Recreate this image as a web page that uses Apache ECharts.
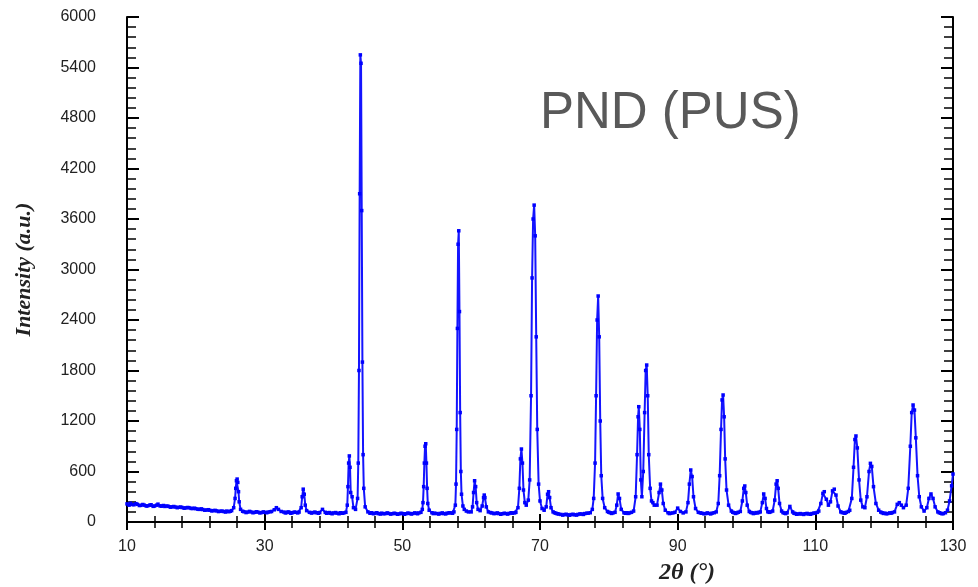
<!DOCTYPE html>
<html>
<head>
<meta charset="utf-8">
<title>PND (PUS)</title>
<script src="https://cdn.jsdelivr.net/npm/echarts@6/dist/echarts.min.js"></script>
<style>
  html, body { margin: 0; padding: 0; background: #fff; }
  #main { width: 978px; height: 587px; }
</style>
</head>
<body>
<div id="main"></div>
<script>
// 衍射图谱数据 [2θ, 强度]
var profile = [
  [10.0,215],[10.3,200],[10.5,222],[10.8,208],[11.0,205],[11.3,218],[11.5,210],[11.8,196],[12.0,198],[12.3,208],[12.5,200],[12.8,190],[13.0,192],[13.3,200],[13.5,205],
  [13.8,186],[14.0,190],[14.3,200],[14.5,212],[14.8,192],[15.0,188],[15.3,196],[15.5,185],[15.8,190],[16.0,186],[16.3,176],[16.5,180],[16.8,184],[17.0,178],[17.3,170],[17.5,175],
  [17.8,178],[18.0,172],[18.3,164],[18.5,168],[18.8,172],[19.0,170],[19.3,162],[19.5,160],[19.8,164],[20.0,158],[20.3,152],[20.5,150],[20.8,156],[21.0,148],[21.3,140],[21.5,142],
  [21.8,146],[22.0,140],[22.3,132],[22.5,135],[22.8,138],[23.0,132],[23.3,124],[23.5,128],[23.8,130],[24.0,125],[24.3,118],[24.5,130],[24.8,122],[25.0,128],
  [25.2,135],[25.5,170],[25.7,280],[25.8,400],[25.9,490],[26.0,510],[26.1,470],[26.2,360],
  [26.3,240],[26.5,150],[26.8,128],
  [27.0,122],[27.3,112],[27.5,118],[27.8,126],[28.0,120],[28.3,110],[28.5,115],[28.8,122],[29.0,118],[29.3,108],[29.5,112],[29.8,120],[30.0,115],[30.3,110],[30.5,118],[30.8,122],
  [31.0,125],[31.4,145],[31.7,170],[32.0,150],[32.4,125],
  [32.8,118],[33.0,108],[33.2,112],[33.4,120],[33.6,115],[33.8,104],[34.0,110],[34.3,118],[34.5,115],[34.8,108],
  [35.0,118],[35.3,170],[35.45,300],[35.6,390],[35.75,330],[35.9,200],[36.1,135],[36.5,115],
  [36.8,106],[37.0,112],[37.3,118],[37.5,110],[37.8,104],[38.0,112],[38.4,150],[38.8,115],
  [39.0,104],[39.2,108],[39.4,112],[39.6,105],[39.8,98],[40.0,108],[40.3,112],[40.5,105],[40.8,98],[41.0,110],[41.3,104],[41.5,108],
  [41.8,115],[42.0,200],[42.1,420],[42.2,700],[42.3,785],[42.4,650],[42.5,350],[42.7,300],
  [42.9,170],[43.2,150],[43.5,280],[43.6,700],[43.7,1800],[43.8,3900],[43.9,5550],[44.0,5450],
  [44.1,3700],[44.2,1900],[44.3,800],[44.4,400],[44.6,180],[45.0,120],
  [45.3,104],[45.5,110],[45.8,98],[46.0,105],[46.3,110],[46.5,100],[46.8,94],[47.0,105],[47.3,98],[47.5,100],[47.8,108],[48.0,102],[48.3,94],[48.5,98],[48.8,104],[49.0,100],
  [49.3,92],[49.5,96],[49.8,104],[50.0,100],[50.3,92],[50.5,98],[50.8,106],[51.0,102],[51.3,95],[51.5,100],[51.8,108],[52.0,105],[52.2,98],[52.4,108],
  [52.7,115],[52.9,150],[53.0,230],[53.1,420],[53.2,700],[53.3,900],[53.4,930],[53.5,700],
  [53.6,400],[53.7,220],[53.9,140],[54.3,110],
  [54.5,100],[54.7,105],[55.0,100],[55.3,94],[55.5,102],[55.8,108],[56.0,100],[56.3,96],[56.5,105],[56.8,110],[57.0,108],[57.3,104],
  [57.5,120],[57.7,200],[57.8,450],[57.9,1100],[58.0,2300],[58.1,3300],[58.2,3460],[58.3,2500],
  [58.4,1300],[58.5,600],[58.6,330],[58.8,190],[59.0,150],[59.3,130],[59.6,120],
  [60.0,120],[60.2,180],[60.35,350],[60.5,490],[60.65,420],[60.8,230],[61.0,150],
  [61.3,135],[61.6,190],[61.8,290],[61.9,320],[62.0,290],[62.2,180],[62.5,120],
  [62.8,112],[63.0,108],[63.3,100],[63.5,102],[63.8,108],[64.0,100],[64.3,92],[64.5,98],[64.8,104],[65.0,100],[65.3,94],[65.5,102],[65.8,110],[66.0,105],[66.3,108],
  [66.5,115],[66.8,170],[67.0,400],[67.15,750],[67.3,867],[67.45,700],[67.6,380],[67.8,230],
  [68.0,200],[68.3,260],[68.5,500],[68.7,1500],[68.85,2900],[69.0,3600],[69.15,3765],[69.3,3400],
  [69.45,2200],[69.6,1100],[69.8,450],[70.0,250],[70.3,160],[70.6,140],
  [70.9,180],[71.1,330],[71.25,360],[71.4,290],[71.6,170],[71.9,120],
  [72.1,110],[72.3,105],[72.5,98],[72.7,95],[73.0,90],[73.3,82],[73.5,88],[73.8,92],[74.0,85],[74.3,80],[74.5,88],[74.8,92],[75.0,85],[75.3,82],[75.5,90],
  [75.8,96],[76.0,95],[76.3,90],[76.5,100],[76.8,104],[77.0,105],
  [77.3,110],[77.6,150],[77.8,280],[78.0,700],[78.15,1500],[78.3,2400],[78.45,2685],[78.6,2200],
  [78.75,1200],[78.9,550],[79.1,280],[79.4,170],[79.8,125],
  [80.0,116],[80.2,110],[80.4,102],[80.6,108],
  [80.9,115],[81.15,200],[81.35,333],[81.55,280],[81.8,150],[82.2,110],
  [82.4,104],[82.6,110],[82.8,102],[83.0,108],[83.3,115],
  [83.6,130],[83.9,300],[84.1,800],[84.25,1250],[84.35,1370],[84.5,1100],[84.65,500],[84.8,300],
  [85.0,600],[85.2,1300],[85.35,1800],[85.5,1865],[85.65,1500],[85.8,800],[86.0,400],[86.2,250],
  [86.4,230],[86.6,200],
  [87.0,200],[87.3,350],[87.5,450],[87.7,380],[87.9,220],[88.2,140],[88.6,110],
  [88.8,100],[89.0,105],[89.3,108],[89.6,115],[90.0,165],[90.4,125],[90.8,108],
  [91.2,120],[91.5,230],[91.7,450],[91.9,618],[92.1,540],[92.3,300],[92.6,160],[93.0,115],
  [93.3,108],[93.5,105],[93.8,98],[94.0,100],[94.3,108],[94.5,102],[94.8,96],[95.0,105],[95.3,110],
  [95.6,120],[95.9,220],[96.1,550],[96.3,1100],[96.45,1450],[96.6,1509],[96.75,1250],[96.9,750],
  [97.1,380],[97.4,200],[97.8,130],
  [98.0,116],[98.2,110],[98.4,102],[98.6,108],[98.8,116],
  [99.1,125],[99.4,250],[99.6,400],[99.75,428],[99.9,350],[100.1,200],[100.4,125],
  [100.6,114],[100.8,110],[101.0,100],[101.2,105],[101.4,112],[101.6,108],[101.8,114],
  [102.0,120],[102.3,230],[102.5,333],[102.7,280],[102.9,160],[103.1,122],[103.3,115],[103.5,120],
  [103.8,130],[104.1,260],[104.3,450],[104.45,490],[104.6,400],[104.8,220],[105.1,130],
  [105.3,112],[105.5,105],[105.7,100],[105.9,110],[106.3,185],[106.7,120],
  [106.9,104],[107.1,100],[107.3,92],[107.5,95],[107.8,100],[108.0,95],[108.3,90],[108.5,98],[108.8,102],[109.0,95],[109.3,92],[109.5,100],[109.8,106],[110.0,105],[110.3,115],
  [110.5,130],[110.8,220],[111.1,340],[111.3,360],[111.6,270],[111.9,200],[112.2,240],[112.5,370],
  [112.75,390],[113.0,320],[113.3,190],[113.7,120],
  [113.9,112],[114.1,110],[114.3,104],[114.5,115],[114.8,125],
  [115.0,140],[115.3,280],[115.55,650],[115.75,980],[115.9,1022],[116.1,880],[116.35,500],[116.6,260],
  [116.9,180],[117.2,170],[117.5,300],[117.8,600],[118.0,697],[118.2,660],[118.45,420],[118.8,220],
  [119.2,140],[119.5,118],[119.7,110],
  [119.9,102],[120.1,105],[120.3,98],[120.5,100],[120.8,108],[121.0,105],[121.2,112],
  [121.5,120],[121.9,210],[122.2,230],[122.5,200],[122.8,170],
  [123.2,200],[123.5,400],[123.8,900],[124.0,1300],[124.2,1390],[124.4,1330],[124.6,1000],[124.85,550],
  [125.1,300],[125.4,180],[125.8,130],
  [126.2,170],[126.5,280],[126.8,333],[127.1,280],[127.4,180],[127.8,120],
  [128.0,110],[128.2,105],[128.4,98],[128.6,100],[128.9,110],[129.2,140],[129.5,250],[129.8,430],[130.0,570]
];

// 坐标轴范围与刻度
var xMin = 10, xMax = 130, xStep = 20;
var yMin = 0, yMax = 6000, yStep = 600;

var chartTitle = 'PND (PUS)';
var xName = '2θ (°)';
var yName = 'Intensity (a.u.)';

var myChart = echarts.init(document.getElementById('main'));

var frameLine = { show: true, lineStyle: { color: '#000', width: 2 } };
var labelFont = '"Liberation Sans", Arial, sans-serif';

var option = {
    animation: false,
    backgroundColor: '#fff',
    grid: { left: 127, right: 25, top: 17, bottom: 65 },
    graphic: [
        {
            type: 'text',
            left: 540,
            top: 88,
            style: {
                text: chartTitle,
                font: '51px "Liberation Sans", Arial, sans-serif',
                fill: '#595959'
            }
        },
        {
            type: 'text',
            left: 659,
            top: 561,
            style: {
                text: xName,
                font: 'italic bold 24px "Liberation Serif", "Times New Roman", serif',
                fill: '#222'
            }
        }
    ],
    xAxis: [
        {
            type: 'value',
            position: 'bottom',
            min: xMin, max: xMax, interval: xStep,
            axisLine: frameLine,
            axisTick: { show: true, inside: true, length: 8, lineStyle: { color: '#000', width: 2 } },
            minorTick: { show: true, splitNumber: 5, length: 6, lineStyle: { color: '#000', width: 1.5 } },
            axisLabel: { margin: 17, fontSize: 16, color: '#222', fontFamily: labelFont },
            splitLine: { show: false }
        },
        {
            type: 'value',
            position: 'top',
            min: xMin, max: xMax, interval: xStep,
            axisLine: frameLine,
            axisTick: { show: true, inside: true, length: 8, lineStyle: { color: '#000', width: 2 } },
            minorTick: { show: true, splitNumber: 5, length: 6, lineStyle: { color: '#000', width: 1.5 } },
            axisLabel: { show: false },
            splitLine: { show: false }
        }
    ],
    yAxis: [
        {
            type: 'value',
            position: 'left',
            min: yMin, max: yMax, interval: yStep,
            name: yName,
            nameLocation: 'middle',
            nameGap: 92,
            nameRotate: 90,
            nameTextStyle: {
                fontFamily: '"Liberation Serif", "Times New Roman", serif',
                fontStyle: 'italic', fontWeight: 'bold', fontSize: 22, color: '#222'
            },
            axisLine: frameLine,
            axisTick: { show: true, inside: true, length: 12, lineStyle: { color: '#000', width: 2 } },
            minorTick: { show: true, splitNumber: 5, length: 9, lineStyle: { color: '#000', width: 1.5 } },
            axisLabel: {
                margin: 31, fontSize: 16, color: '#222', fontFamily: labelFont,
                formatter: function (v) { return String(v); }
            },
            splitLine: { show: false }
        },
        {
            type: 'value',
            position: 'right',
            min: yMin, max: yMax, interval: yStep,
            axisLine: frameLine,
            axisTick: { show: true, inside: true, length: 12, lineStyle: { color: '#000', width: 2 } },
            minorTick: { show: true, splitNumber: 5, length: 9, lineStyle: { color: '#000', width: 1.5 } },
            axisLabel: { show: false },
            splitLine: { show: false }
        }
    ],
    series: [
        {
            type: 'line',
            xAxisIndex: 0,
            yAxisIndex: 0,
            data: profile,
            showSymbol: true,
            symbol: 'rect',
            symbolSize: 3.5,
            itemStyle: { color: '#0000ff' },
            lineStyle: { color: '#1414ff', width: 2 },
            z: 1
        }
    ]
};

myChart.setOption(option);
</script>
</body>
</html>
